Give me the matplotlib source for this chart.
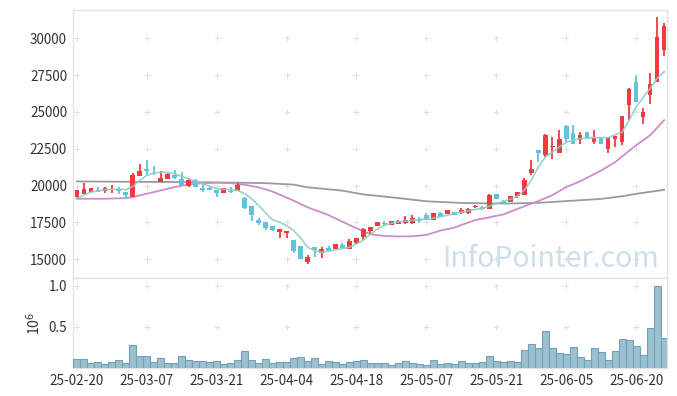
import matplotlib
matplotlib.use("Agg")
from matplotlib import pyplot as plt
import numpy as np

plt.rcParams["font.family"] = ["Noto Sans CJK KR", "DejaVu Sans"]

# trading days shown (KRX), 25-02-20 .. 25-06-26
dates = [
    "25-02-20", "25-02-21", "25-02-24", "25-02-25", "25-02-26", "25-02-27", "25-02-28",
    "25-03-04", "25-03-05", "25-03-06", "25-03-07", "25-03-10", "25-03-11", "25-03-12",
    "25-03-13", "25-03-14", "25-03-17", "25-03-18", "25-03-19", "25-03-20", "25-03-21",
    "25-03-24", "25-03-25", "25-03-26", "25-03-27", "25-03-28", "25-03-31", "25-04-01",
    "25-04-02", "25-04-03", "25-04-04", "25-04-07", "25-04-08", "25-04-09", "25-04-10",
    "25-04-11", "25-04-14", "25-04-15", "25-04-16", "25-04-17", "25-04-18", "25-04-21",
    "25-04-22", "25-04-23", "25-04-24", "25-04-25", "25-04-28", "25-04-29", "25-04-30",
    "25-05-02", "25-05-07", "25-05-08", "25-05-09", "25-05-12", "25-05-13", "25-05-14",
    "25-05-15", "25-05-16", "25-05-19", "25-05-20", "25-05-21", "25-05-22", "25-05-23",
    "25-05-26", "25-05-27", "25-05-28", "25-05-29", "25-05-30", "25-06-02", "25-06-04",
    "25-06-05", "25-06-09", "25-06-10", "25-06-11", "25-06-12", "25-06-13", "25-06-16",
    "25-06-17", "25-06-18", "25-06-19", "25-06-20", "25-06-23", "25-06-24", "25-06-25",
    "25-06-26",
]

opens = [
    19219, 19446, 19560, 19717, 19604, 19740, 19762, 19560, 19219, 20645,
    21097, 21075, 20238, 20441, 20690, 20464, 19966, 20396, 19808, 19808,
    19717, 19491, 19650, 19627, 19151, 18586, 17681, 17550, 17288, 16880,
    16768, 16339, 15932, 14802, 15864, 15412, 15774, 15729, 16000, 15683,
    16135, 16497, 16949, 17265, 17491, 17356, 17401, 17470, 17446, 17672,
    18011, 17672, 18169, 18079, 18192, 18124, 18169, 18531, 18517, 18427,
    19417, 18945, 18877, 19282, 19376, 20875, 22396, 22055, 22635, 22237,
    24030, 23600, 23077, 23621, 22940, 23258, 22486, 23167, 22963, 25460,
    27049, 24665, 26164, 27049, 29205,
]
closes = [
    19672, 19785, 19808, 19559, 19830, 19785, 19627, 19333, 20690, 20962,
    20985, 21030, 20487, 20803, 20509, 19989, 20350, 19898, 19717, 19717,
    19491, 19808, 19560, 20012, 18473, 17975, 17455, 17100, 16994, 17085,
    16904, 15593, 15028, 15186, 15638, 15706, 15593, 16045, 15774, 16226,
    16429, 17062, 17175, 17514, 17400, 17582, 17582, 17695, 17808, 17627,
    17672, 18169, 17898, 18350, 18011, 18372, 18440, 18621, 18405, 19350,
    19102, 18810, 19327, 19552, 20352, 21147, 22214, 23417, 22680, 23145,
    23145, 22804, 23417, 23213, 23258, 22804, 23304, 23350, 24711, 26550,
    25687, 25006, 26890, 30113, 30862,
]
highs = [
    19690, 20192, 19830, 19900, 19900, 20012, 19900, 19560, 20850, 21437,
    21753, 21300, 20985, 20870, 21075, 20940, 20419, 20419, 20170, 19940,
    19717, 19830, 19900, 20192, 19219, 18586, 17817, 17550, 17288, 17085,
    16920, 16339, 15932, 15322, 15864, 15819, 15887, 16045, 16113, 16361,
    16452, 17107, 17220, 17514, 17582, 17582, 17672, 17921, 18034, 17853,
    18124, 18169, 18237, 18350, 18192, 18463, 18486, 18667, 18630, 19400,
    19440, 19012, 19330, 19552, 20511, 21760, 22396, 23530, 23280, 23800,
    24100, 24100, 23644, 23621, 23757, 23258, 23304, 23350, 24711, 26618,
    27435, 25301, 27640, 31475, 31021,
]
lows = [
    19100, 19420, 19540, 19537, 19500, 19500, 19450, 19106, 19219, 20645,
    20690, 20690, 20238, 20420, 20464, 19989, 19898, 19898, 19537, 19670,
    19219, 19491, 19490, 19627, 18428, 17590, 17296, 16960, 16950, 16450,
    16450, 15412, 15028, 14690, 15186, 15096, 15593, 15729, 15774, 15683,
    16045, 16316, 16723, 17265, 17356, 17356, 17380, 17400, 17400, 17491,
    17650, 17672, 17850, 18079, 18011, 18100, 18079, 18500, 18337, 18400,
    19060, 18810, 18877, 19192, 19376, 20738, 21601, 21940, 21800, 22237,
    22963, 22804, 22850, 23213, 22850, 22804, 22214, 22623, 22736, 24438,
    25687, 24211, 25573, 27049, 28797,
]
# volume, in millions of shares
volumes = [
    0.113, 0.113, 0.065, 0.077, 0.052, 0.077, 0.100, 0.065, 0.282, 0.149,
    0.149, 0.077, 0.125, 0.065, 0.065, 0.149, 0.100, 0.089, 0.089, 0.077,
    0.089, 0.052, 0.065, 0.100, 0.210, 0.100, 0.065, 0.113, 0.065, 0.077,
    0.077, 0.125, 0.137, 0.089, 0.125, 0.052, 0.089, 0.077, 0.052, 0.077,
    0.089, 0.100, 0.065, 0.065, 0.065, 0.040, 0.065, 0.089, 0.065, 0.052,
    0.040, 0.100, 0.052, 0.065, 0.052, 0.089, 0.065, 0.065, 0.077, 0.149,
    0.089, 0.077, 0.089, 0.077, 0.222, 0.294, 0.246, 0.452, 0.246, 0.185,
    0.173, 0.258, 0.137, 0.100, 0.246, 0.198, 0.100, 0.210, 0.355, 0.343,
    0.274, 0.161, 0.488, 0.996, 0.367,
]

# moving averages at these day indices
ma_short_idx = [0, 2, 4, 6, 7, 8, 9, 10, 11, 12, 13, 14, 15, 16, 18, 20, 22, 23, 24,
                25, 26, 27, 28, 29, 30, 31, 32, 33, 34, 35, 36, 37, 38, 39, 40, 41,
                42, 43, 44, 45, 46, 47, 48, 49, 50, 51, 52, 53, 54, 55, 56, 57, 58,
                59, 60, 61, 62, 63, 64, 65, 66, 67, 68, 69, 70, 72, 74, 76, 78, 79,
                80, 81, 82, 83, 84]
ma_short = [19155, 19560, 19720, 19765, 19720, 19946, 20353, 20690, 20850, 20918,
            20895, 20800, 20624, 20466, 20127, 19790, 19720, 19675, 19450, 19110,
            18660, 18150, 17672, 17514, 17288, 16949, 16452, 15819, 15593, 15480,
            15548, 15638, 15729, 15819, 16045, 16316, 16723, 17062, 17310, 17446,
            17537, 17582, 17650, 17717, 17740, 17785, 17900, 17990, 18110, 18200,
            18280, 18395, 18450, 18607, 18787, 18922, 19080, 19282, 19687, 20362,
            21262, 21937, 22275, 22612, 22950, 23190, 23258, 23258, 23644, 24438,
            25346, 25982, 26595, 27276, 27730]
ma_mid_idx = [0, 4, 7, 8, 10, 12, 14, 16, 18, 20, 22, 24, 26, 28, 31, 33, 36, 38, 40,
              42, 44, 46, 48, 50, 52, 54, 56, 57, 59, 61, 64, 66, 68, 70, 72, 75, 77,
              80, 82, 84]
ma_mid = [19110, 19110, 19155, 19220, 19450, 19675, 19900, 20080, 20170, 20195,
          20170, 20060, 19887, 19600, 18983, 18531, 18000, 17550, 17100, 16700,
          16580, 16550, 16560, 16655, 16950, 17150, 17500, 17660, 17850, 18045,
          18600, 18950, 19350, 19900, 20300, 21030, 21600, 22740, 23420, 24440]
ma_long_idx = [0, 8, 16, 24, 27, 31, 33, 38, 41, 45, 50, 55, 58, 62, 66, 70, 75, 78,
               80, 84]
ma_long = [20285, 20260, 20240, 20195, 20170, 20068, 19887, 19660, 19400, 19210,
           18938, 18825, 18800, 18787, 18832, 18950, 19100, 19280, 19445, 19717]

tick_idx = list(range(0, 81, 10))
price_ticks = [15000, 17500, 20000, 22500, 25000, 27500, 30000]
vol_ticks = [0.5, 1.0]

UP = "#ee3b3f"
DOWN = "#63c1dc"
FRAME = "#e3e3e3"
TXT = "#333333"

fig = plt.figure(figsize=(6.77, 3.96), dpi=100)
ax = fig.add_axes([0.1083, 0.2987, 0.8768, 0.676])
axv = fig.add_axes([0.1083, 0.0707, 0.8768, 0.2265], sharex=ax)

x = np.arange(len(dates))
o = np.array(opens)
c = np.array(closes)
up = c >= o
cols = np.where(up, UP, DOWN)

ax.vlines(x, lows, highs, colors=cols, linewidth=1.3, zorder=3)
body_lo = np.minimum(o, c)
body_h = np.maximum(np.abs(c - o), 40)
ax.bar(x, body_h, bottom=body_lo, width=0.65, color=cols, linewidth=0, zorder=4)

ax.plot(ma_long_idx, ma_long, color="#9a9a9a", linewidth=1.3, zorder=2)
ax.plot(ma_mid_idx, ma_mid, color="#cf8cc6", linewidth=1.3, zorder=2)
ax.plot(ma_short_idx, ma_short, color="#8dcdc6", linewidth=1.2, zorder=5, alpha=0.9)

ax.set_xlim(-0.5, 84.4)
ax.set_ylim(13750, 31920)
ax.set_yticks(price_ticks)
ax.set_yticklabels([str(v) for v in price_ticks])

gx, gy = np.meshgrid(tick_idx, price_ticks)
ax.scatter(gx.ravel(), gy.ravel(), marker="+", s=18, color="#e0e0e0",
           linewidths=0.7, zorder=0)

ax.text(0.9865, 0.041, "InfoPointer.com", transform=ax.transAxes, ha="right",
        va="baseline", fontsize=20.5, color="#cddfe9", zorder=1)

axv.bar(x, volumes, width=1.0, color="#9bc1d1", edgecolor="#73a0b7",
        linewidth=0.8, zorder=3)
axv.set_ylim(0, 1.093)
axv.set_yticks(vol_ticks)
axv.set_yticklabels(["0.5", "1.0"])
axv.set_ylabel("10$^6$", color=TXT, fontsize=10, labelpad=4)
vx, vy = np.meshgrid(tick_idx, vol_ticks)
axv.scatter(vx.ravel(), vy.ravel(), marker="+", s=18, color="#e0e0e0",
            linewidths=0.7, zorder=0)
axv.set_xticks(tick_idx)
axv.set_xticklabels([dates[i] for i in tick_idx])

for a in (ax, axv):
    for s in a.spines.values():
        s.set_color(FRAME)
        s.set_linewidth(1.0)
    a.tick_params(length=0, labelsize=9.7, colors=TXT, pad=4.5)
ax.tick_params(axis="x", labelbottom=False)

fig.savefig("out.png", dpi=100)
plt.close(fig)
